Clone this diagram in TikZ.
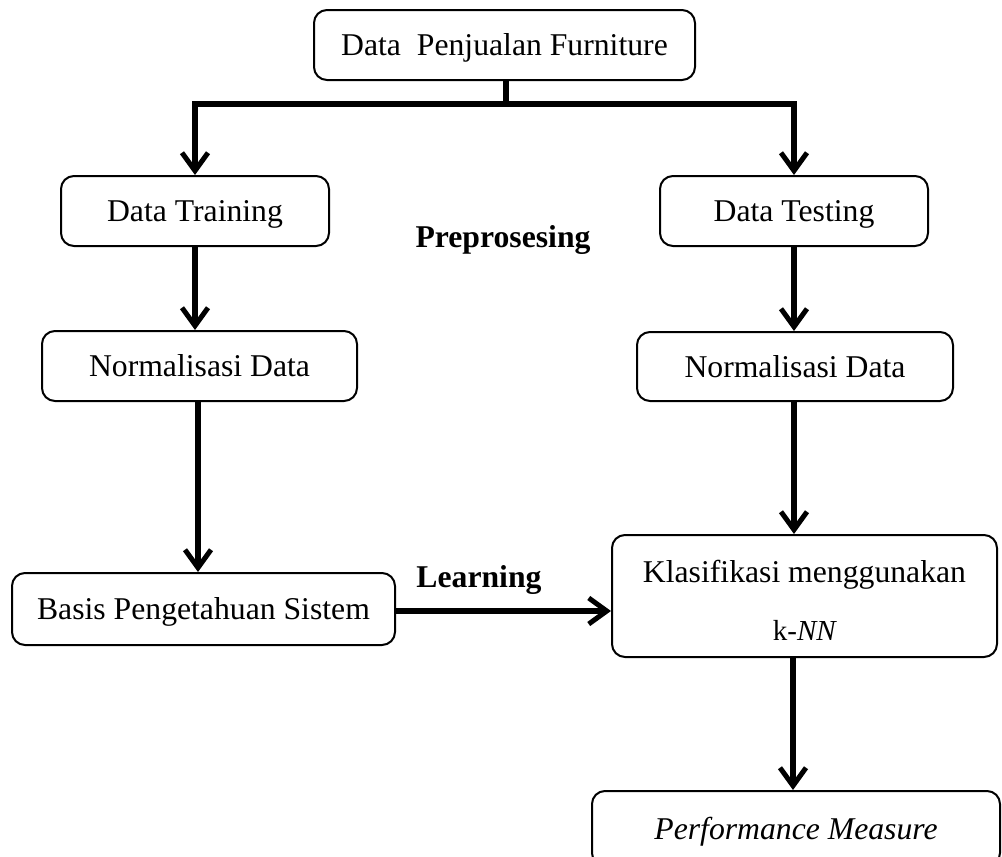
\documentclass[tikz,border=0pt]{standalone}
\usepackage{fontspec}
\setmainfont{Liberation Serif}
\usetikzlibrary{arrows.meta,calc}
\begin{document}
\begin{tikzpicture}[x=1pt,y=-1pt,
  box/.style={draw=black,line width=2pt,rounded corners=13pt,fill=white,
    inner sep=0pt,text height=21pt,text depth=0pt,
    font=\fontsize{31.7}{38}\selectfont},
  conn/.style={line width=5.5pt,line join=miter},
  arr/.style={conn,-{Straight Barb[length=18pt,width=26pt,line width=5pt]}},
  lbl/.style={font=\fontsize{31.7}{38}\selectfont\bfseries,inner sep=0pt,anchor=base}]
\useasboundingbox (0,0) rectangle (1002,857);
\clip (0,0) rectangle (1002,857);

\node[box,minimum width=381pt,minimum height=70pt] (top) at (504.5,45) {Data\ \ Penjualan Furniture};
\node[box,minimum width=268pt,minimum height=70pt] (train) at (195,211) {Data Training};
\node[box,minimum width=268pt,minimum height=70pt] (test) at (794,211) {Data Testing};
\node[lbl] (prep) at (503,247) {Preprosesing};
\node[box,minimum width=315pt,minimum height=70pt] (normL) at (199.5,366) {Normalisasi Data};
\node[box,minimum width=316pt,minimum height=69pt] (normR) at (795,366.5) {Normalisasi Data};
\node[box,minimum width=383pt,minimum height=72pt] (basis) at (203.5,609) {Basis Pengetahuan Sistem};
\node[box,minimum width=385pt,minimum height=122pt] (klas) at (804.5,596) {};
\node[inner sep=0pt,anchor=base,font=\fontsize{31.7}{38}\selectfont] (klasA) at (804.5,582) {Klasifikasi menggunakan};
\node[inner sep=0pt,anchor=base,font=\fontsize{29}{34}\selectfont] (klasB) at (805,640) {k-\textit{NN}};
\node[lbl] (learn) at (479,587) {Learning};
\node[box,minimum width=408pt,minimum height=75pt,font=\fontsize{31.7}{38}\selectfont\itshape] (perf) at (796,828.5) {Performance Measure};

\coordinate (jm) at (506,104);
\draw[conn] (top.south -| jm) -- (jm);
\draw[arr] (jm) -| (train.north);
\draw[arr] (jm) -| (test.north);
\draw[arr] (train.south) -- (train.south |- normL.north);
\draw[arr] (test.south) -- (test.south |- normR.north);
\draw[arr] (normL.south -| 198,0) -- (basis.north -| 198,0);
\draw[arr] (normR.south -| 794,0) -- (klas.north -| 794,0);
\draw[arr] (basis.east |- 0,611) -- (klas.west |- 0,611);
\draw[arr] (klas.south -| 793,0) -- (perf.north -| 793,0);
\end{tikzpicture}
\end{document}
